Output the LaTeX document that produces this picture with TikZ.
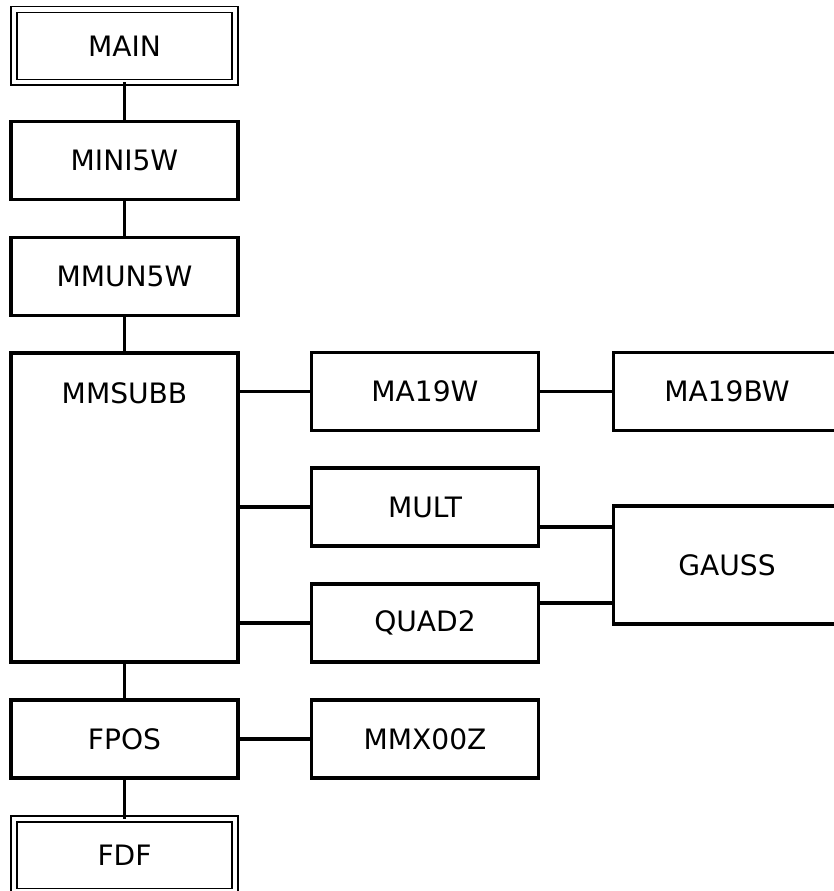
\documentclass[tikz,border=0pt]{standalone}
\usepackage{fontspec}
\setmainfont{DejaVu Sans}
\usepackage{tikz}
\usetikzlibrary{positioning,calc}
\tikzset{
  % ordinary routine box
  rbox/.style={rectangle, draw=black, line width=1.8pt, minimum width=4.54cm, minimum height=1.56cm,
               inner sep=2pt, outer sep=0pt, font=\fontsize{16}{19}\selectfont},
  % main program / entry box with double frame
  dbox/.style={rectangle, draw=black, double, double distance=0.09cm, line width=0.85pt,
               minimum width=4.42cm, minimum height=1.45cm, inner sep=2pt, outer sep=0pt,
               font=\fontsize{16}{19}\selectfont},
  % call line
  calls/.style={line width=1.8pt},
}
\begin{document}
\begin{tikzpicture}
  \useasboundingbox (0,0) rectangle (16.66,-17.82);

  % left column
  \node[dbox] (main) at (2.49,-0.92) {MAIN};
  \node[rbox] (mini) at (2.49,-3.21) {MINI5W};
  \node[rbox] (mmun) at (2.49,-5.53) {MMUN5W};
  \node[rbox, minimum height=6.18cm,
        label={[anchor=center, yshift=-0.8cm, font=\fontsize{16}{19}\selectfont]north:MMSUBB}] (mmsubb) at (2.49,-10.15) {};
  \node[rbox] (fpos) at (2.49,-14.78) {FPOS};
  \node[dbox] (fdf) at (2.49,-17.10) {FDF};

  % middle column
  \node[rbox] (ma19w) at (8.50,-7.83) {MA19W};
  \node[rbox] (mult) at (8.50,-10.14) {MULT};
  \node[rbox] (quad) at (8.50,-12.46) {QUAD2};
  \node[rbox] (mmx) at (8.50,-14.78) {MMX00Z};

  % right column
  \node[rbox] (ma19bw) at (14.54,-7.83) {MA19BW};
  \node[rbox, minimum height=2.36cm] (gauss) at (14.54,-11.30) {GAUSS};

  % vertical calls
  \draw[calls] (main) -- (mini);
  \draw[calls] (mini) -- (mmun);
  \draw[calls] (mmun) -- (mmsubb);
  \draw[calls] (mmsubb) -- (fpos);
  \draw[calls] (fpos) -- (fdf);

  % horizontal calls
  \draw[calls] (mmsubb.east |- ma19w) -- (ma19w.west);
  \draw[calls] (mmsubb.east |- mult) -- (mult.west);
  \draw[calls] (mmsubb.east |- quad) -- (quad.west);
  \draw[calls] (ma19w.east) -- (ma19bw.west);
  \draw[calls] ([yshift=-0.4cm]mult.east) -- ([yshift=-0.4cm]mult.east -| gauss.west);
  \draw[calls] ([yshift=0.4cm]quad.east) -- ([yshift=0.4cm]quad.east -| gauss.west);
  \draw[calls] (fpos) -- (mmx);
\end{tikzpicture}
\end{document}
